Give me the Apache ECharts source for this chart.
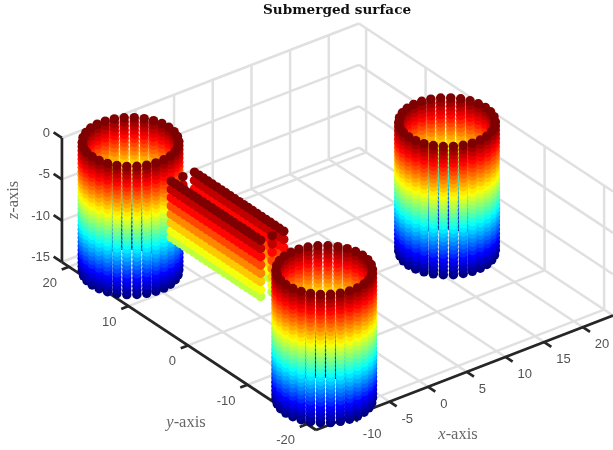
<!DOCTYPE html>
<html><head><meta charset="utf-8">
<style>html,body{margin:0;padding:0;background:#fff}#c{width:613px;height:450px}</style>
<script src="https://cdn.jsdelivr.net/npm/echarts@6/dist/echarts.min.js"></script>
</head><body><div id="c"></div>
<script>
const xTicks = [-10,-5,0,5,10,15,20];
const yTicks = [-20,-10,0,10,20];
const zTicks = [-15,-10,-5,0];
const xRange = [-14.5,23.9];
const yRange = [-21.5,21.2];
const zRange = [-15,0];
const cylinderCenters = [[-9.4,16.3],[-9.4,-16.25],[18.9,-0.1]];
const cylinderRadius = [4.95];
const cylinderAngles = [0,12,24,36,48,60,72,84,96,108,120,132,144,156,168,180,192,204,216,228,240,252,264,276,288,300,312,324,336,348];
const cylinderLevels = [0,-0.5,-1,-1.5,-2,-2.5,-3,-3.5,-4,-4.5,-5,-5.5,-6,-6.5,-7,-7.5,-8,-8.5,-9,-9.5,-10,-10.5,-11,-11.5,-12,-12.5,-13,-13.5,-14,-14.5,-15,-15.5];
const boxLongX = [-10.9,-7.9];
const boxMidX = [-9.4];
const boxLongY = [-7.5,-6.75,-6,-5.25,-4.5,-3.75,-3,-2.25,-1.5,-0.75,0,0.75,1.5,2.25,3,3.75,4.5,5.25,6,6.75,7.5];
const boxEndY = [-7.5,7.5];
const boxLevels = [0,-1,-2,-3,-4,-5,-6,-6.8];
const jet = ['#00007f','#0000ff','#007fff','#00ffff','#7fff7f','#ffff00','#ff7f00','#ff0000','#7f0000'];

// Fixed orthographic view of the 3D box
function project(x,y,z){
  const a=x+14.5,b=y+21.5,c=z+15;
  return [316+7.735*a-5.95*b, 430-2.98*a-3.934*b-8.27*c];
}
const depth=(x,y,z)=>-.516*x-.671*y+.505*z;

const pts=[];
cylinderCenters.forEach(([cx,cy])=>{
  cylinderAngles.forEach(t=>{
    const r=cylinderRadius[0],A=t*Math.PI/180;
    cylinderLevels.forEach(z=>pts.push([cx+r*Math.cos(A),cy+r*Math.sin(A),z]));
  });
});
boxLevels.forEach(z=>{
  boxLongX.forEach(x=>boxLongY.forEach(y=>pts.push([x,y,z])));
  boxMidX.forEach(x=>boxEndY.forEach(y=>pts.push([x,y,z])));
});
pts.sort((p,q)=>depth(...p)-depth(...q));
const scatterData=pts.map(p=>{const s=project(...p);return [s[0],s[1],p[2]];});

const gridSegs=[],axisSegs=[];
const [x0,x1]=xRange,[y0,y1]=yRange,[z0,z1]=zRange;
xTicks.forEach(x=>{
  gridSegs.push([project(x,y0,z0),project(x,y1,z0)]);
  gridSegs.push([project(x,y1,z0),project(x,y1,z1)]);
});
yTicks.forEach(y=>{
  gridSegs.push([project(x0,y,z0),project(x1,y,z0)]);
  gridSegs.push([project(x1,y,z0),project(x1,y,z1)]);
});
zTicks.forEach(z=>{
  gridSegs.push([project(x0,y1,z),project(x1,y1,z)]);
  gridSegs.push([project(x1,y1,z),project(x1,y0,z)]);
});
axisSegs.push([project(x0,y1,z1),project(x0,y1,z0)]);
axisSegs.push([project(x0,y1,z0),project(x0,y0,z0)]);
axisSegs.push([project(x0,y0,z0),project(x1,y0,z0)]);
xTicks.forEach(x=>axisSegs.push([project(x,y0,z0),project(x,y0-1.2,z0)]));
yTicks.forEach(y=>axisSegs.push([project(x0,y,z0),project(x0-0.95,y,z0)]));
zTicks.forEach(z=>axisSegs.push([project(x0,y1,z),project(x0,y1+1.4,z)]));

const seg=(s,color,width)=>({type:'line',data:s,symbol:'none',silent:true,animation:false,clip:true,
  lineStyle:{color,width,cap:'butt'},z:width>2.6?3:1});
const tickFont={fontFamily:'Liberation Sans',fontSize:13,color:'#262626'};
const labelSeries=(data,align,offset)=>({type:'scatter',symbolSize:0,silent:true,animation:false,z:6,
  data:data.map(d=>({value:d.p,label:{formatter:d.t}})),
  label:{show:true,position:'inside',align,verticalAlign:'middle',offset,...tickFont}});
const rich={i:{fontFamily:'Liberation Serif',fontStyle:'italic',fontSize:16.5,color:'#404040'},
            r:{fontFamily:'Liberation Serif',fontSize:16.5,color:'#404040'}};
const axisName=(px,letter,rotate)=>({type:'scatter',symbolSize:0,silent:true,animation:false,z:6,
  data:[px],label:{show:true,position:'inside',align:'center',verticalAlign:'middle',rotate:rotate||0,
    formatter:'{i|'+letter+'}{r|-axis}',rich}});

const option={
  animation:false,backgroundColor:'#fff',
  title:{text:'Submerged surface',left:263,top:3,padding:0,
    textStyle:{fontFamily:'DejaVu Serif',fontWeight:'bold',fontSize:13.6,color:'#111'}},
  grid:{left:0,right:0,top:0,bottom:0},
  xAxis:{type:'value',min:0,max:613,show:false},
  yAxis:{type:'value',min:0,max:450,inverse:true,show:false},
  visualMap:{show:false,type:'continuous',dimension:2,min:-15.5,max:0,seriesIndex:0,inRange:{color:jet}},
  series:[
    {type:'scatter',data:scatterData,symbol:'circle',symbolSize:9.5,silent:true,animation:false,
      progressive:0,large:false,z:4,itemStyle:{opacity:1,borderWidth:0}},
    ...gridSegs.map(s=>seg(s,'#e0e0e0',2.5)),
    ...axisSegs.map(s=>seg(s,'#262626',2.7)),
    labelSeries(xTicks.map(v=>({p:project(v,y0,z0),t:String(v)})),'left',[12,17.5]),
    labelSeries(yTicks.map(v=>({p:project(x0,v,z0),t:String(v)})),'right',[-12,16.5]),
    labelSeries(zTicks.map(v=>({p:project(x0,y1,v),t:String(v)})),'right',[-12,-4.5]),
    axisName([458,435],'x'),
    axisName([186,423],'y'),
    axisName([14,200],'z',90)
  ]
};
echarts.init(document.getElementById('c'),null,{renderer:'canvas'}).setOption(option);
</script></body></html>
